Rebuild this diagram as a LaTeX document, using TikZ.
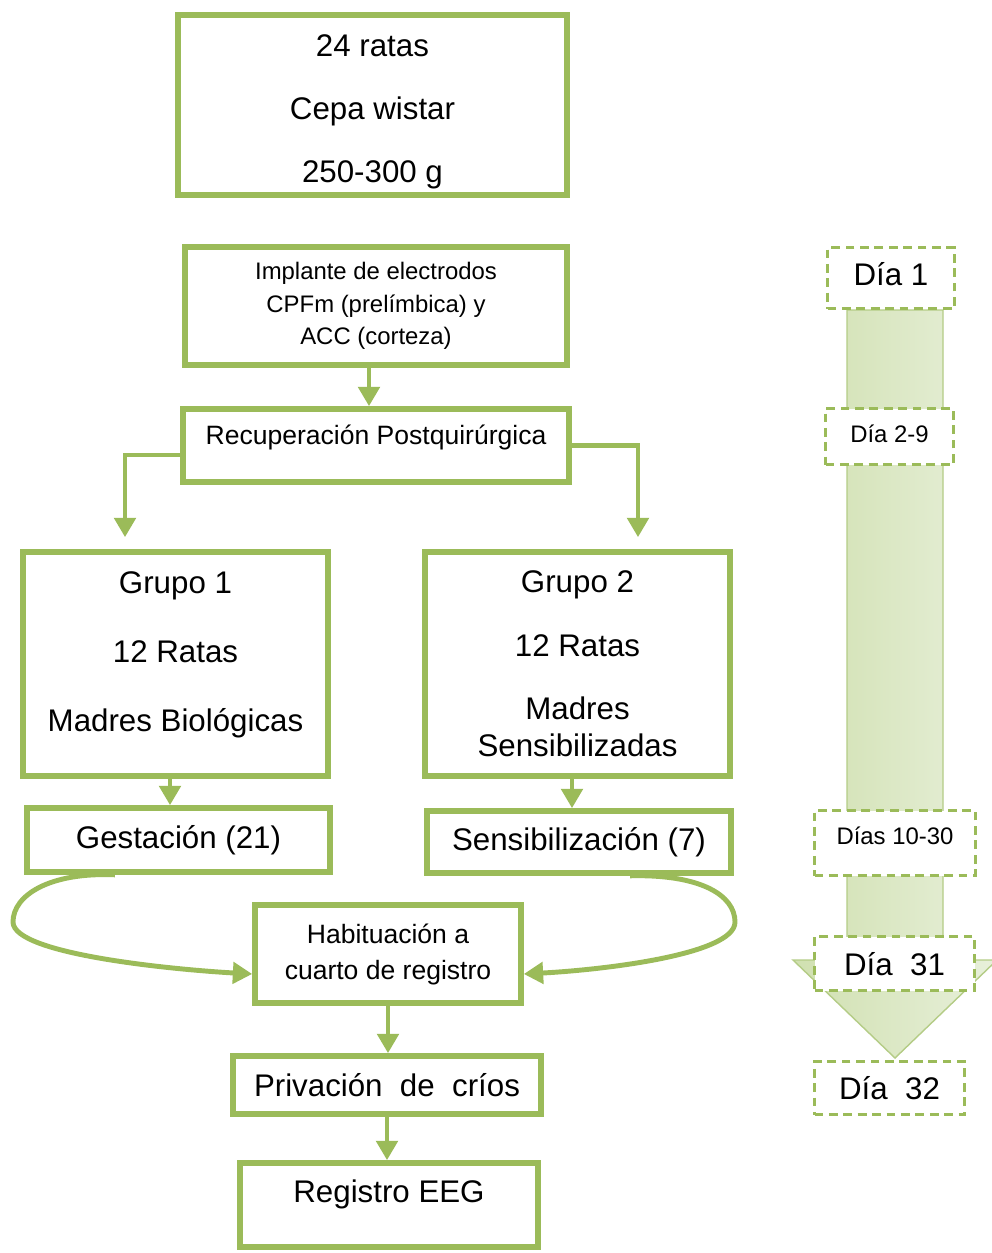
\documentclass[tikz,border=0pt]{standalone}
\usepackage{fontspec}
\setmainfont{Liberation Sans}
\usetikzlibrary{arrows.meta,positioning}

\definecolor{leaf}{RGB}{155,187,89}
\definecolor{leafLight}{RGB}{232,240,219}
\definecolor{leafDark}{RGB}{208,224,176}
\definecolor{leafEdge}{RGB}{180,204,134}

\newcommand{\bigf}{\fontsize{17.8}{21}\selectfont}
\newcommand{\medf}{\fontsize{15.1}{20.5}\selectfont}
\newcommand{\smallf}{\fontsize{13.6}{18.5}\selectfont}

\begin{document}
\begin{tikzpicture}[
    box/.style={draw=leaf, line width=3.2pt, fill=white, align=center, inner sep=0pt},
    daybox/.style={draw=leaf, line width=1.7pt, dash pattern=on 5pt off 3.2pt,
      fill=white, inner sep=0pt},
    link/.style={draw=leaf, line width=2.8pt, -{Triangle[length=11pt,width=12pt]}},
  ]
    \useasboundingbox (0,0) rectangle (19.82,-25.06);

    % time line arrow
    \path[left color=leafDark, right color=leafLight, draw=leafEdge, line width=0.8pt]
      (16.94,-6.20) -- (18.86,-6.20) -- (18.86,-19.20) -- (19.94,-19.20)
      -- (17.90,-21.16) -- (15.86,-19.20) -- (16.94,-19.20) -- cycle;

    \foreach \name/\x/\y/\w/\h/\tdp/\fnt/\txt in {
        d1/17.82/-5.56/2.54/1.22/4.6/\bigf/Día 1,
        d2/17.79/-8.73/2.56/1.12/3.4/\smallf/Día 2-9,
        d3/17.90/-16.86/3.22/1.30/8/\smallf/Días 10-30,
        d4/17.89/-19.27/3.20/1.08/0/\bigf/Día~ 31,
        d5/17.79/-21.76/3.00/1.06/0/\bigf/Día~ 32} {
      \node [daybox, minimum width=\w cm, minimum height=\h cm, text depth=\tdp pt, font=\fnt]
        (\name) at (\x,\y) {\txt} ;
    }

    % flow boxes
    \node [box, minimum width=7.78cm, minimum height=3.60cm] (rats) at (7.45,-2.10) {} ;
    \node [font=\bigf, align=center] (rats-txt) at ([yshift=-4pt]rats.center)
      {24 ratas\\[14.8pt]Cepa wistar\\[14.8pt]250-300 g} ;
    \node [box, minimum width=7.64cm, minimum height=2.36cm, font=\smallf]
      (impl) at (7.52,-6.12) {Implante de electrodos\\CPFm (prelímbica) y\\ACC (corteza)} ;
    \node [box, minimum width=7.72cm, minimum height=1.46cm] (recup) at (7.52,-8.91) {} ;
    \node [font=\medf] (recup-txt) at ([yshift=4.5pt]recup.center) {Recuperación Postquirúrgica} ;

    \node [box, minimum width=6.10cm, minimum height=4.48cm] (g1) at (3.51,-13.28) {} ;
    \node [font=\bigf, align=center] (g1-txt) at ([yshift=5.2pt]g1.center)
      {Grupo 1\\[18.3pt]12 Ratas\\[18.3pt]Madres Biológicas} ;
    \node [box, minimum width=6.10cm, minimum height=4.48cm, font=\bigf]
      (g2) at (11.55,-13.28) {Grupo 2\\[15.4pt]12 Ratas\\[14.8pt]Madres\\Sensibilizadas} ;

    \node [box, minimum width=6.06cm, minimum height=1.28cm, font=\bigf]
      (gest) at (3.57,-16.80) {Gestación (21)} ;
    \node [box, minimum width=6.08cm, minimum height=1.24cm, font=\bigf]
      (sens) at (11.58,-16.84) {Sensibilización (7)} ;

    \node [box, minimum width=5.32cm, minimum height=1.96cm, font=\medf]
      (hab) at (7.76,-19.08) {Habituación a\\cuarto de registro} ;
    \node [box, minimum width=6.16cm, minimum height=1.16cm, font=\bigf]
      (priv) at (7.74,-21.70) {Privación~ de~ críos} ;
    \node [box, minimum width=5.96cm, minimum height=1.68cm] (reg) at (7.78,-24.10) {} ;
    \node [font=\bigf] (reg-txt) at ([yshift=6pt]reg.center) {Registro EEG} ;

    % connectors
    \draw [link] ([xshift=-0.14cm]impl.south) -- ([xshift=-0.14cm]impl.south |- recup.north) ;
    \draw [link] ([yshift=-0.19cm]recup.west) -| ([xshift=-1.01cm, yshift=0.24cm]g1.north) ;
    \draw [link] (recup.east) -| ([xshift=1.21cm, yshift=0.24cm]g2.north) ;
    \draw [link] ([xshift=-0.11cm]g1.south) -- ([xshift=-0.11cm]g1.south |- gest.north) ;
    \draw [link] ([xshift=-0.11cm]g2.south) -- ([xshift=-0.11cm]g2.south |- sens.north) ;

    \draw [link] ([xshift=-1.27cm]gest.south)
      .. controls (1.00,-17.44) and (0.26,-17.90) .. (0.26,-18.44)
      .. controls (0.26,-19.10) and (3.60,-19.40) .. ([yshift=-0.40cm]hab.west) ;
    \draw [link] ([xshift=1.02cm]sens.south)
      .. controls (14.00,-17.48) and (14.70,-17.90) .. (14.70,-18.44)
      .. controls (14.70,-19.10) and (12.00,-19.40) .. ([yshift=-0.40cm]hab.east) ;

    \draw [link] (hab.south) -- (hab.south |- priv.north) ;
    \draw [link] (priv.south) -- (priv.south |- reg.north) ;
\end{tikzpicture}
\end{document}
